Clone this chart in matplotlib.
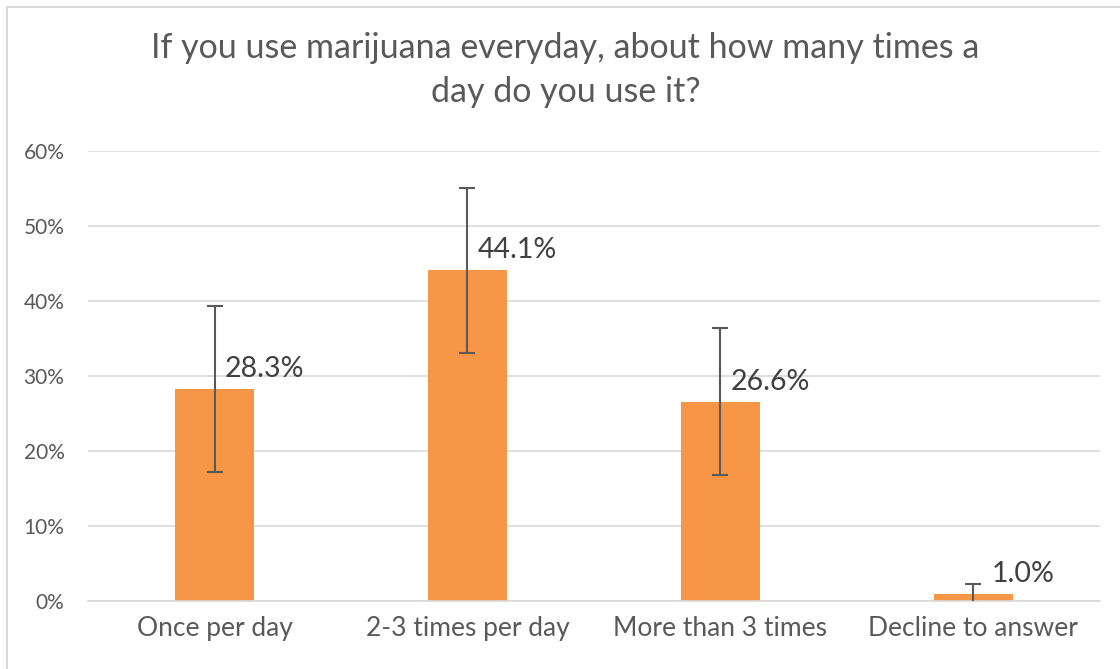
import matplotlib.pyplot as plt
from matplotlib.patches import Rectangle
from matplotlib.ticker import FuncFormatter

categories = ['Once per day', '2-3 times per day', 'More than 3 times', 'Decline to answer']
values = [28.3, 44.1, 26.6, 1.0]
errors = [11.1, 11.0, 9.8, 1.3]
labels = ['28.3%', '44.1%', '26.6%', '1.0%']
title = 'If you use marijuana everyday, about how many times a\nday do you use it?'

plt.rcParams['font.family'] = ['Lato', 'DejaVu Sans']
gray = '#595959'

fig = plt.figure(figsize=(11.2, 6.69), dpi=100)
# chart border
fig.patches.append(Rectangle((7 / 1120, -0.1), 1.2, 1 - 7 / 669 + 0.1,
                             transform=fig.transFigure, fill=False,
                             edgecolor='#d9d9d9', linewidth=1.5))

ax = fig.add_axes([0.0786, 0.1016, 0.9034, 0.6727])
x = range(len(categories))
ax.bar(x, values, width=0.315, color='#F79646', zorder=2)
ax.errorbar(x, values, yerr=errors, fmt='none', ecolor=gray,
            elinewidth=1.5, capsize=6, capthick=1.5, zorder=3)

for i, (v, lab) in enumerate(zip(values, labels)):
    ax.text(i + 0.196, v + 1.6, lab, ha='center', va='baseline',
            fontsize=20.5, color='#404040', zorder=4)

ax.set_ylim(0, 60)
ax.set_xlim(-0.5, 3.5)
ax.set_yticks(range(0, 61, 10))
ax.yaxis.set_major_formatter(FuncFormatter(lambda v, p: f'{v:.0f}%'))
ax.grid(axis='y', color='#d9d9d9', linewidth=1.2, zorder=0)
ax.set_axisbelow(True)
for s in ['top', 'right', 'left']:
    ax.spines[s].set_visible(False)
ax.spines['bottom'].set_color('#d9d9d9')
ax.spines['bottom'].set_linewidth(1.2)
ax.tick_params(axis='y', length=0, labelsize=15, labelcolor=gray, pad=17)
ax.tick_params(axis='x', length=0, labelsize=19, labelcolor=gray, pad=11)
ax.set_xticks(list(x))
ax.set_xticklabels(categories)

fig.text(0.505, 0.952, title, ha='center', va='top', fontsize=24.5,
         color=gray, linespacing=1.45)

fig.savefig('out.png', dpi=100)
